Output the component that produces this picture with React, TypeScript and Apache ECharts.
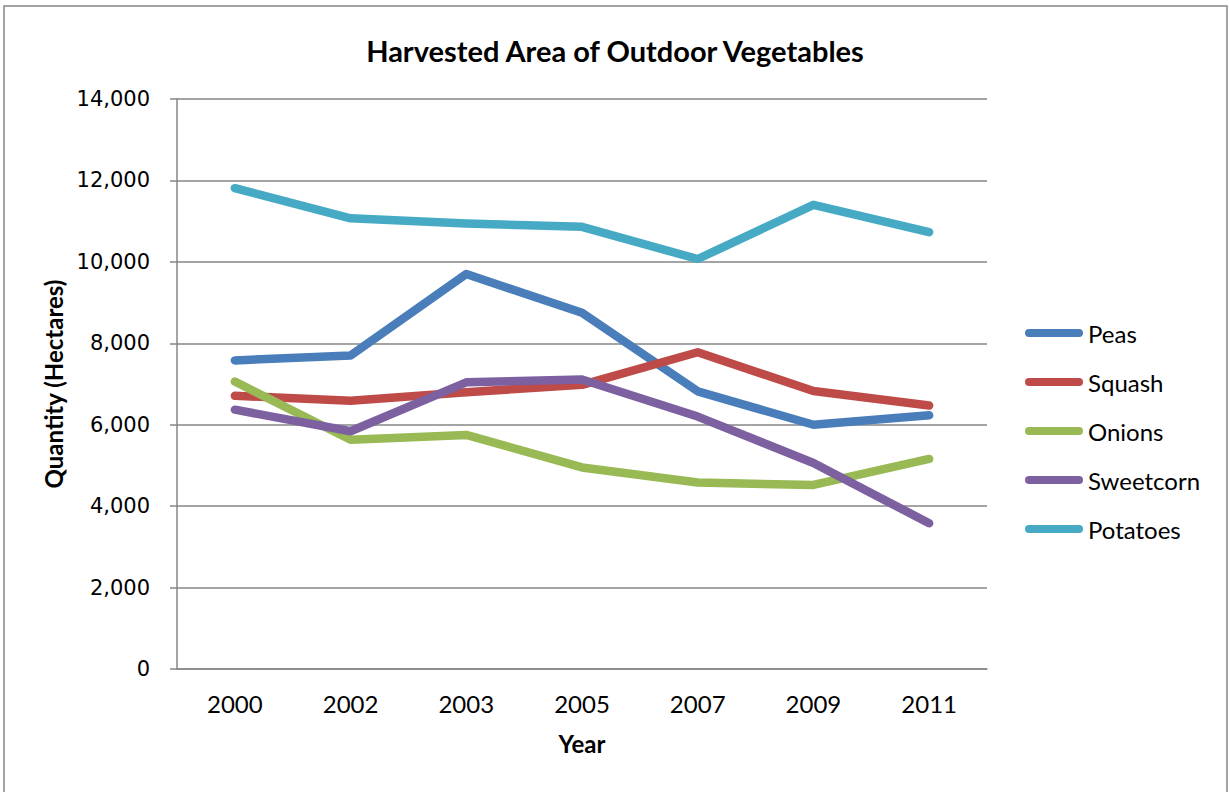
import React, { useEffect, useRef } from "react";
import * as echarts from "echarts";

// Harvested area (hectares) of outdoor vegetables by survey year
const years = ["2000", "2002", "2003", "2005", "2007", "2009", "2011"];
const peas = [7580, 7700, 9700, 8750, 6820, 6000, 6230];
const squash = [6710, 6590, 6800, 6980, 7780, 6830, 6470];
const onions = [7060, 5630, 5750, 4950, 4580, 4520, 5160];
const sweetcorn = [6370, 5840, 7040, 7110, 6200, 5060, 3580];
const potatoes = [11810, 11070, 10940, 10860, 10070, 11400, 10730];

const seriesDefs = [
  { name: "Peas", data: peas, color: "#4A7EBB" },
  { name: "Squash", data: squash, color: "#BE4B48" },
  { name: "Onions", data: onions, color: "#98B954" },
  { name: "Sweetcorn", data: sweetcorn, color: "#7D60A0" },
  { name: "Potatoes", data: potatoes, color: "#46AAC5" },
];

const yTicks = { min: 0, max: 14000, interval: 2000 };

const calibriLike = "Lato, 'Open Sans', sans-serif";
const gridGray = "#868686";

export default function App() {
  const ref = useRef<HTMLDivElement>(null);

  useEffect(() => {
    if (!ref.current) return;
    const chart = echarts.init(ref.current, undefined, { renderer: "svg" });
    chart.setOption({
      animation: false,
      backgroundColor: "#ffffff",
      title: {
        text: "Harvested Area of Outdoor Vegetables",
        left: "center",
        top: 31,
        textStyle: {
          fontFamily: calibriLike,
          fontWeight: "bold",
          fontSize: 29,
          color: "#000",
        },
      },
      graphic: [
        {
          type: "rect",
          shape: { x: 4, y: 6, width: 1223, height: 820 },
          style: { fill: "none", stroke: gridGray, lineWidth: 1.5 },
          silent: true,
        },
      ],
      legend: {
        orient: "vertical",
        left: 1025,
        top: 321,
        padding: 0,
        itemWidth: 58,
        itemHeight: 8,
        itemGap: 25,
        icon: "path://M4,0H54A4,4,0,0,1,54,8H4A4,4,0,0,1,4,0Z",
        textStyle: {
          fontFamily: calibriLike,
          fontSize: 24,
          lineHeight: 24,
          color: "#000",
        },
        data: seriesDefs.map((s) => s.name),
      },
      grid: { left: 177, right: 243, top: 99, bottom: 123, containLabel: false },
      xAxis: {
        type: "category",
        data: years,
        boundaryGap: true,
        name: "Year",
        nameLocation: "middle",
        nameGap: 62,
        nameTextStyle: {
          fontFamily: calibriLike,
          fontWeight: "bold",
          fontSize: 24,
          color: "#000",
        },
        axisLine: { show: true, lineStyle: { color: gridGray, width: 1.5 } },
        axisTick: { show: false },
        axisLabel: {
          margin: 22,
          fontFamily: calibriLike,
          fontSize: 24,
          color: "#000",
        },
        splitLine: { show: false },
      },
      yAxis: {
        type: "value",
        min: yTicks.min,
        max: yTicks.max,
        interval: yTicks.interval,
        name: "Quantity (Hectares)",
        nameLocation: "middle",
        nameRotate: 90,
        nameGap: 108,
        nameTextStyle: {
          fontFamily: calibriLike,
          fontWeight: "bold",
          fontSize: 24,
          color: "#000",
        },
        axisLine: { show: true, lineStyle: { color: gridGray, width: 1.5 } },
        axisTick: { show: true, length: 7, lineStyle: { color: gridGray, width: 1.5 } },
        axisLabel: {
          margin: 27,
          fontFamily: "'DejaVu Sans', Verdana, sans-serif",
          fontSize: 21,
          color: "#000",
          formatter: (v: number) => v.toLocaleString("en-US"),
        },
        splitLine: { show: true, lineStyle: { color: gridGray, width: 1.5 } },
      },
      series: seriesDefs.map((s) => ({
        name: s.name,
        type: "line",
        data: s.data,
        color: s.color,
        showSymbol: false,
        symbol: "none",
        lineStyle: { width: 8.5, color: s.color, cap: "round", join: "round" },
        itemStyle: { color: s.color },
      })),
    });
    return () => chart.dispose();
  }, []);

  return (
    <div
      ref={ref}
      style={{ position: "fixed", left: 0, top: 0, width: 1230, height: 792, background: "#fff" }}
    />
  );
}
